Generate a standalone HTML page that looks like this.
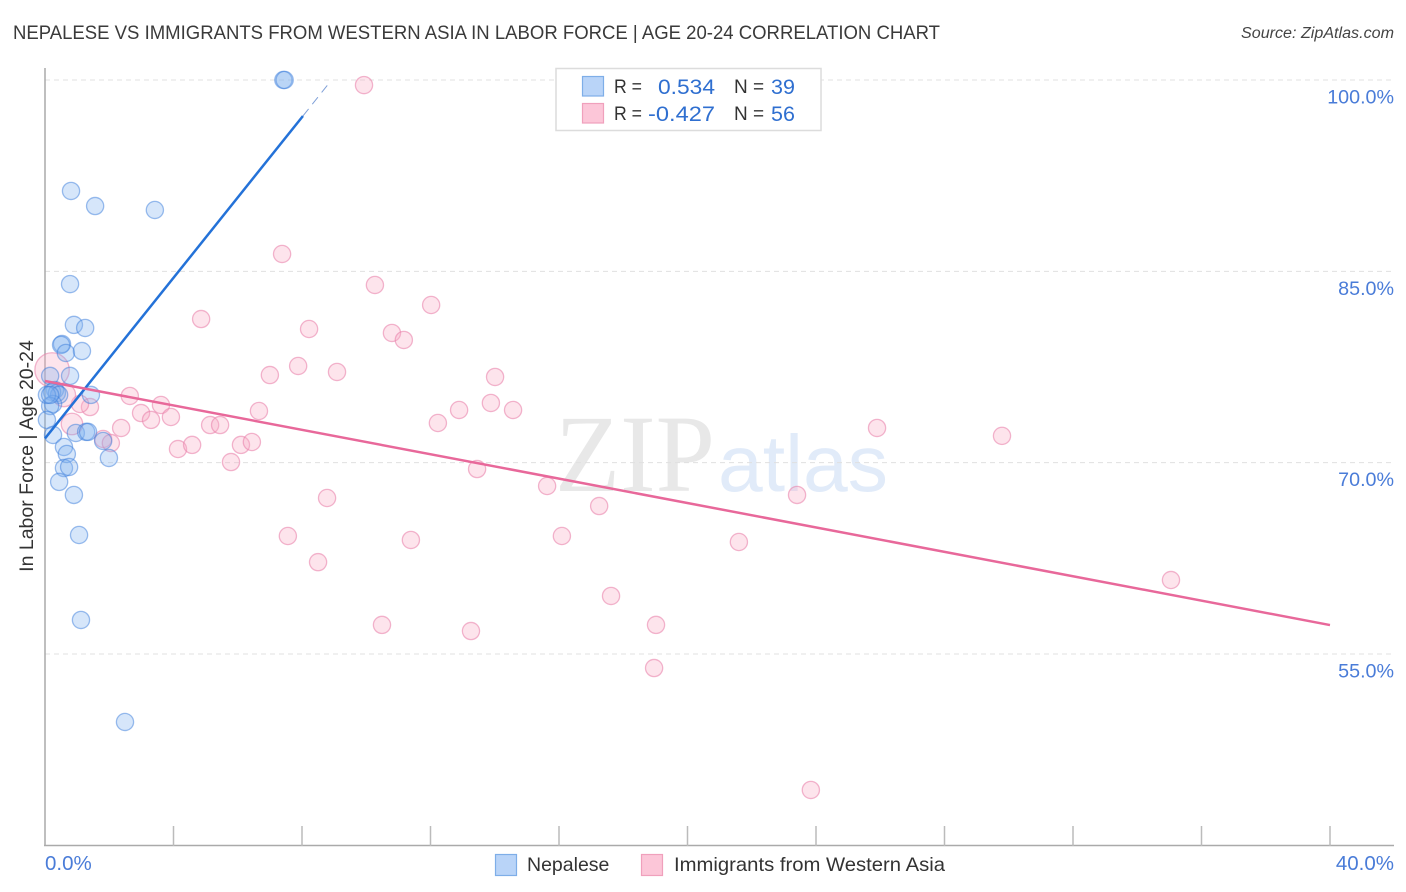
<!DOCTYPE html>
<html lang="en">
<head>
<meta charset="utf-8">
<title>Nepalese vs Immigrants from Western Asia in Labor Force | Age 20-24 Correlation Chart</title>
<style>
html,body{margin:0;padding:0;background:#fff;}
body{width:1406px;height:892px;overflow:hidden;}
svg{display:block;font-family:"Liberation Sans",sans-serif;}
</style>
</head>
<body>
<svg id="chart" width="1406" height="892" viewBox="0 0 1406 892" xmlns="http://www.w3.org/2000/svg">
  <g>
    <text x="555" y="491" font-family="'Liberation Serif',serif" font-size="110" fill="#e8e8e8" textLength="160" lengthAdjust="spacingAndGlyphs">ZIP</text>
    <text x="718" y="491" font-size="80" fill="#e1ebf9" textLength="170" lengthAdjust="spacingAndGlyphs">atlas</text>
  </g>
  <g id="grid"></g>
  <g id="axes"></g>
  <g id="pinkLayer"></g>
  <g id="blueLayer"></g>
  <g id="trends"></g>
  <text x="13" y="39" font-size="19.5" fill="#3a3a3a" textLength="927" lengthAdjust="spacingAndGlyphs">NEPALESE VS IMMIGRANTS FROM WESTERN ASIA IN LABOR FORCE | AGE 20-24 CORRELATION CHART</text>
  <text x="1241" y="38" font-size="15.5" font-style="italic" fill="#444" textLength="153" lengthAdjust="spacingAndGlyphs">Source: ZipAtlas.com</text>
  <text transform="translate(33,456) rotate(-90)" font-size="19.5" fill="#333" text-anchor="middle">In Labor Force | Age 20-24</text>
  <g>
    <rect x="556" y="68.5" width="265" height="62" fill="#fff" stroke="#dcdcdc" stroke-width="1.5"/>
    <rect x="582.5" y="76.5" width="21" height="19.5" fill="#b9d4f8" stroke="#7eaee8" stroke-width="1.2"/>
    <rect x="582.5" y="103.5" width="21" height="19.5" fill="#fcc6d8" stroke="#f0a0bc" stroke-width="1.2"/>
    <g font-size="19" fill="#333">
      <text x="614" y="93" textLength="28" lengthAdjust="spacingAndGlyphs">R =</text>
      <text x="734" y="93">N =</text>
      <text x="614" y="120" textLength="28" lengthAdjust="spacingAndGlyphs">R =</text>
      <text x="734" y="120">N =</text>
    </g>
    <g font-size="21.5" fill="#2f6fd0">
      <text x="658" y="94" textLength="57" lengthAdjust="spacingAndGlyphs">0.534</text>
      <text x="771" y="94">39</text>
      <text x="648" y="121" textLength="67" lengthAdjust="spacingAndGlyphs">-0.427</text>
      <text x="771" y="121">56</text>
    </g>
  </g>
  <g>
    <rect x="495.5" y="854.5" width="21" height="21" fill="#b9d4f8" stroke="#7eaee8" stroke-width="1.2"/>
    <text x="527" y="871" font-size="19.5" fill="#333">Nepalese</text>
    <rect x="641.5" y="854.5" width="21" height="21" fill="#fcc6d8" stroke="#f0a0bc" stroke-width="1.2"/>
    <text x="674" y="871" font-size="19.5" fill="#333" textLength="271" lengthAdjust="spacingAndGlyphs">Immigrants from Western Asia</text>
  </g>
</svg>
<script>
// Chart data (x = share %, y = in labor force %)
const yTickValues = [100, 85, 70, 55];
const yTickLabels = ['100.0%', '85.0%', '70.0%', '55.0%'];
const xTickValues = [0, 4, 8, 12, 16, 20, 24, 28, 32, 36, 40];
const xEndValues = [0, 40];
const xEndLabels = ['0.0%', '40.0%'];

const nepaleseX = [7.42, 7.46, 0.81, 1.56, 3.42, 0.78, 0.90, 1.25, 0.53, 0.50, 0.65, 1.15, 0.78, 0.16, 0.31, 0.22, 0.37, 0.44, 1.43, 0.25, 0.16, 0.06, 0.25, 0.96, 1.28, 1.34, 1.81, 0.59, 0.68, 1.99, 0.59, 0.75, 0.44, 0.90, 1.06, 1.12, 2.49, 0.06, 0.16];
const nepaleseY = [100.0, 100.0, 91.3, 90.12, 89.81, 84.0, 80.8, 80.56, 79.3, 79.23, 78.6, 78.75, 76.8, 76.8, 75.7, 75.54, 75.46, 75.31, 75.31, 74.6, 74.44, 73.35, 72.17, 72.33, 72.41, 72.41, 71.7, 71.23, 70.68, 70.37, 69.58, 69.66, 68.49, 67.47, 64.33, 57.67, 49.67, 75.31, 75.31];

const immigrantsX = [9.93, 7.38, 10.27, 12.02, 4.86, 8.22, 10.80, 11.17, 7.88, 9.09, 7.00, 14.01, 13.88, 14.57, 12.89, 6.66, 12.23, 2.64, 3.61, 2.99, 3.30, 3.92, 1.40, 1.09, 0.59, 0.22, 0.84, 2.37, 5.14, 5.45, 4.14, 4.58, 6.10, 6.44, 5.79, 1.81, 2.05, 13.45, 15.63, 17.25, 23.41, 25.90, 29.79, 8.78, 7.56, 11.39, 16.09, 21.60, 8.50, 17.62, 10.49, 13.26, 19.02, 18.96, 23.84, 35.05];
const immigrantsY = [99.6, 86.36, 83.93, 82.36, 81.26, 80.48, 80.17, 79.62, 77.58, 77.11, 76.87, 76.72, 74.68, 74.13, 74.13, 74.05, 73.11, 75.23, 74.52, 73.89, 73.35, 73.58, 74.36, 74.6, 75.3, 77.27, 73.03, 72.72, 72.95, 72.95, 71.07, 71.39, 71.39, 71.62, 70.05, 71.86, 71.54, 69.5, 68.17, 66.6, 67.47, 72.72, 72.1, 67.23, 64.25, 63.94, 64.25, 63.78, 62.2, 59.55, 57.28, 56.8, 57.28, 53.9, 44.34, 60.8];
const immigrantsBubble = [1, 1, 1, 1, 1, 1, 1, 1, 1, 1, 1, 1, 1, 1, 1, 1, 1, 1, 1, 1, 1, 1, 1, 1, 1.35, 2, 1.25, 1, 1, 1, 1, 1, 1, 1, 1, 1, 1, 1, 1, 1, 1, 1, 1, 1, 1, 1, 1, 1, 1, 1, 1, 1, 1, 1, 1, 1];

const blueTrendX = [0, 8.03];
const blueTrendY = [71.9, 97.18];
const blueDashX = [8.03, 8.87];
const blueDashY = [97.18, 99.84];
const pinkTrendX = [0, 40];
const pinkTrendY = [76.4, 57.27];

// Axis functions
const xPos = v => 45 + v * (1330 - 45) / 40;
const yPos = v => 80 + (100 - v) * (654 - 80) / 45;

const NS = 'http://www.w3.org/2000/svg';
function make(tag, parent, attrs) {
  const el = document.createElementNS(NS, tag);
  Object.keys(attrs).forEach(k => el.setAttribute(k, attrs[k]));
  parent.appendChild(el);
  return el;
}

const grid = document.getElementById('grid');
const axes = document.getElementById('axes');
const blueLayer = document.getElementById('blueLayer');
const pinkLayer = document.getElementById('pinkLayer');
const trends = document.getElementById('trends');

yTickValues.forEach((v, i) => {
  const line = make('line', grid, {x1: 45, x2: 1394, y1: yPos(v), y2: yPos(v), stroke: '#e0e0e0', 'stroke-width': 1, 'stroke-dasharray': '5 4'});
  
  
  const label = make('text', axes, {x: 1394, y: yPos(v) + 23.5, 'font-size': 19.7, fill: '#4a7cd8', 'text-anchor': 'end'});
  label.textContent = yTickLabels[i];
  
  
});

const yAxis = make('line', axes, {x1: 45, x2: 45, y1: 68, y2: 846, stroke: '#aaa', 'stroke-width': 1.5});


const xAxis = make('line', axes, {x1: 44, x2: 1394, y1: 845.5, y2: 845.5, stroke: '#aaa', 'stroke-width': 1.5});



xTickValues.forEach(v => {
  if (v === 0) return;
  const tick = make('line', axes, {x1: xPos(v), x2: xPos(v), y1: 826, y2: 846, stroke: '#bbb', 'stroke-width': 1.5});
  
  
});

xEndValues.forEach((v, i) => {
  const label = make('text', axes, {x: i === 0 ? xPos(v) : 1394, y: 870, 'font-size': 20.5, fill: '#4a7cd8', 'text-anchor': i === 0 ? 'start' : 'end'});
  label.textContent = xEndLabels[i];
  
  
});

immigrantsX.forEach((v, i) => {
  const dot = make('circle', pinkLayer, {cx: xPos(v), cy: yPos(immigrantsY[i]), r: 8.6 * immigrantsBubble[i], fill: 'rgba(248,170,196,0.32)', stroke: 'rgba(232,130,170,0.58)', 'stroke-width': 1.3});
  
  
});

nepaleseX.forEach((v, i) => {
  const dot = make('circle', blueLayer, {cx: xPos(v), cy: yPos(nepaleseY[i]), r: 8.6, fill: 'rgba(130,180,240,0.33)', stroke: 'rgba(60,125,220,0.5)', 'stroke-width': 1.3});
  
  
});

const blueLine = make('line', trends, {x1: xPos(blueTrendX[0]), y1: yPos(blueTrendY[0]), x2: xPos(blueTrendX[1]), y2: yPos(blueTrendY[1]), stroke: '#2472d8', 'stroke-width': 2.5});


const blueDash = make('line', trends, {x1: xPos(blueDashX[0]), y1: yPos(blueDashY[0]), x2: xPos(blueDashX[1]), y2: yPos(blueDashY[1]), stroke: '#7fa0d8', 'stroke-width': 1, 'stroke-dasharray': '9 6'});


const pinkLine = make('line', trends, {x1: xPos(pinkTrendX[0]), y1: yPos(pinkTrendY[0]), x2: xPos(pinkTrendX[1]), y2: yPos(pinkTrendY[1]), stroke: '#e8689a', 'stroke-width': 2.5});


</script>
</body>
</html>
